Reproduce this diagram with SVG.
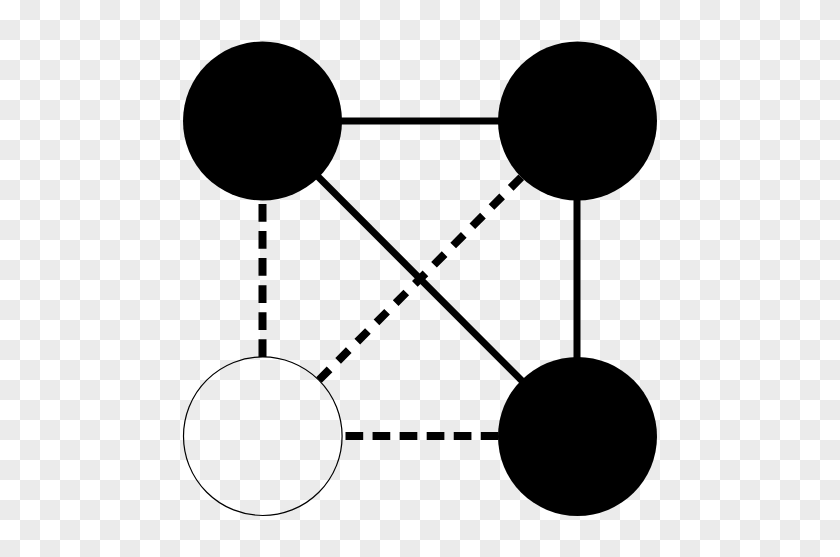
<svg xmlns="http://www.w3.org/2000/svg" width="840" height="557" viewBox="0 0 840 557">
  <style>
    .solid { stroke: #000; stroke-width: 7; fill: none; }
    .dash { stroke: #000; stroke-width: 8; fill: none; stroke-dasharray: 17.7 9.36; }
    .dashd { stroke: #000; stroke-width: 8; fill: none; stroke-dasharray: 15 12.15; }
    .full { fill: #000; }
    .open { fill: none; stroke: #000; stroke-width: 1.2; }
  </style>
  <defs>
    <pattern id="checker" x="0" y="0" width="40" height="40" patternUnits="userSpaceOnUse">
      <rect width="40" height="40" fill="#ffffff"/>
      <rect x="20" y="0" width="20" height="20" fill="#ebebeb"/>
      <rect x="0" y="20" width="20" height="20" fill="#ebebeb"/>
    </pattern>
  </defs>
  <rect width="840" height="557" fill="url(#checker)"/>
  <g id="connectors">
    <line class="solid" x1="262.5" y1="121" x2="577.5" y2="121"/>
    <line class="solid" x1="577" y1="121" x2="577" y2="436.5"/>
    <line class="solid" x1="262.5" y1="121" x2="577.5" y2="436.5"/>
    <line class="dash" x1="262.5" y1="204" x2="262.5" y2="357"/>
    <line class="dash" x1="345.5" y1="436" x2="498.5" y2="436"/>
    <line class="dashd" x1="521.3" y1="177.2" x2="318.7" y2="380.3"/>
  </g>
  <g id="node-top-left">
    <circle class="full" cx="262.5" cy="121" r="79.5"/>
  </g>
  <g id="node-top-right">
    <circle class="full" cx="577.5" cy="121" r="79.5"/>
  </g>
  <g id="node-bottom-right">
    <circle class="full" cx="577.5" cy="436.5" r="79.5"/>
  </g>
  <g id="node-bottom-left">
    <circle class="open" cx="262.8" cy="436.2" r="79.3"/>
  </g>
</svg>
